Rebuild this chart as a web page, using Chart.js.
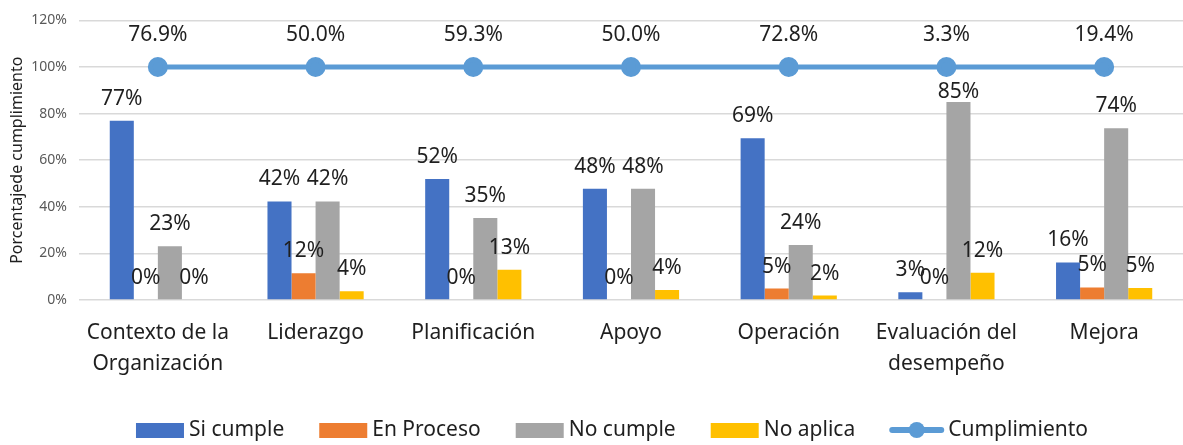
<!DOCTYPE html>
<html>
<head>
<meta charset="utf-8">
<script src="https://cdn.jsdelivr.net/npm/chart.js@4"></script>
<style>
  html, body { margin: 0; padding: 0; background: #fff; overflow: hidden; }
  #wrap { width: 1183px; height: 445px; position: relative; }
</style>
</head>
<body>
<div id="wrap"><canvas id="chart"></canvas></div>
<script>
const categories = [
  ["Contexto de la", "Organización"],
  "Liderazgo",
  "Planificación",
  "Apoyo",
  "Operación",
  ["Evaluación del", "desempeño"],
  "Mejora",
];
const siCumple = [76.9, 42.3, 51.9, 47.8, 69.4, 3.3, 16.1];
const enProceso = [0, 11.5, 0, 0, 4.9, 0, 5.4];
const noCumple = [23.1, 42.3, 35.2, 47.8, 23.6, 85.0, 73.7];
const noAplica = [0, 3.8, 13.0, 4.3, 1.9, 11.7, 5.1];
// the line sits on the 100% gridline, its labels carry the real value
const cumplimientoLevel = [100, 100, 100, 100, 100, 100, 100];
const cumplimiento = [76.9, 50.0, 59.3, 50.0, 72.8, 3.3, 19.4];
const yTicks = [0, 20, 40, 60, 80, 100, 120];

const FONT = "'Noto Sans', 'Open Sans', sans-serif";
const TEXT = "#1f1f1f";
const lineColor = "#5B9BD5";

// value labels above bars and above line points
const valueLabels = {
  id: "valueLabels",
  afterDatasetsDraw(chart) {
    const { ctx } = chart;
    const lineMeta = chart.getDatasetMeta(0);
    ctx.save();
    ctx.font = "21px " + FONT;
    ctx.fillStyle = TEXT;
    ctx.textAlign = "center";
    ctx.textBaseline = "middle";
    chart.data.datasets.forEach((ds, i) => {
      const meta = chart.getDatasetMeta(i);
      meta.data.forEach((el, j) => {
        if (ds.type === "line") {
          ctx.fillText(cumplimiento[j].toFixed(1) + "%", el.x, el.y - 32);
        } else {
          // keep bar labels clear of the line, like Excel does
          const lineY = lineMeta.data[j].y;
          const y = Math.max(el.y - 22, lineY + 25);
          ctx.fillText(Math.round(ds.data[j]) + "%", el.x, y);
        }
      });
    });
    ctx.restore();
  },
};

// bottom legend drawn by hand (Excel style: box, small gap, text)
const bottomLegend = {
  id: "bottomLegend",
  afterDraw(chart) {
    const { ctx } = chart;
    const order = [1, 2, 3, 4, 0];
    const cy = 430, center = 612, gapText = 5, gapItem = 35;
    ctx.save();
    ctx.font = "21px " + FONT;
    ctx.textBaseline = "middle";
    const items = order.map((i) => {
      const ds = chart.data.datasets[i];
      const mark = ds.type === "line" ? 53 : 48;
      return { ds, mark, w: mark + gapText + ctx.measureText(ds.label).width };
    });
    const total = items.reduce((s, it) => s + it.w, 0) + gapItem * (items.length - 1);
    let x = center - total / 2;
    items.forEach((it) => {
      if (it.ds.type === "line") {
        ctx.strokeStyle = lineColor;
        ctx.lineWidth = 6;
        ctx.lineCap = "round";
        ctx.beginPath();
        ctx.moveTo(x + 2, cy);
        ctx.lineTo(x + it.mark - 2, cy);
        ctx.stroke();
        ctx.fillStyle = lineColor;
        ctx.beginPath();
        ctx.arc(x + it.mark / 2, cy, 8, 0, Math.PI * 2);
        ctx.fill();
      } else {
        ctx.fillStyle = it.ds.backgroundColor;
        ctx.fillRect(x, cy - 7, it.mark, 15);
      }
      ctx.fillStyle = TEXT;
      ctx.fillText(it.ds.label, x + it.mark + gapText, cy);
      x += it.w + gapItem;
    });
    ctx.restore();
  },
};

new Chart(document.getElementById("chart"), {
  data: {
    labels: categories,
    datasets: [
      { type: "line", label: "Cumplimiento", data: cumplimientoLevel, borderColor: lineColor, backgroundColor: lineColor, borderWidth: 5, pointRadius: 7.5, pointHoverRadius: 7.5, order: 0 },
      { type: "bar", label: "Si cumple", data: siCumple, backgroundColor: "#4472C4", order: 1 },
      { type: "bar", label: "En Proceso", data: enProceso, backgroundColor: "#ED7D31", order: 1 },
      { type: "bar", label: "No cumple", data: noCumple, backgroundColor: "#A5A5A5", order: 1 },
      { type: "bar", label: "No aplica", data: noAplica, backgroundColor: "#FFC000", order: 1 },
    ],
  },
  options: {
    responsive: true,
    maintainAspectRatio: false,
    animation: false,
    datasets: { bar: { categoryPercentage: 0.61, barPercentage: 1 } },
    layout: { autoPadding: false, padding: { top: 18, right: 0, left: 0, bottom: 56 } },
    plugins: {
      tooltip: { enabled: false },
      legend: { display: false },
    },
    scales: {
      x: {
        grid: { display: false },
        border: { display: false },
        ticks: { font: { family: FONT, size: 21, lineHeight: 1.5 }, color: TEXT, maxRotation: 0, padding: 9 },
        afterFit(scale) {
          scale.height = 89;
          scale.paddingLeft = 0;
          scale.paddingRight = 0;
        },
      },
      y: {
        min: 0,
        max: 120,
        afterBuildTicks(scale) { scale.ticks = yTicks.map((v) => ({ value: v })); },
        ticks: { font: { family: FONT, size: 14 }, color: "#595959", padding: 12, callback: (v) => v + "%" },
        grid: { color: "#D9D9D9", lineWidth: 1.5, drawTicks: false },
        border: { display: false },
        title: { display: true, text: "Porcentajede cumplimiento", font: { family: FONT, size: 16 }, color: TEXT, padding: { top: 8, bottom: 0 } },
        afterFit(scale) { scale.width = 79; },
      },
    },
  },
  plugins: [valueLabels, bottomLegend],
});
</script>
</body>
</html>
